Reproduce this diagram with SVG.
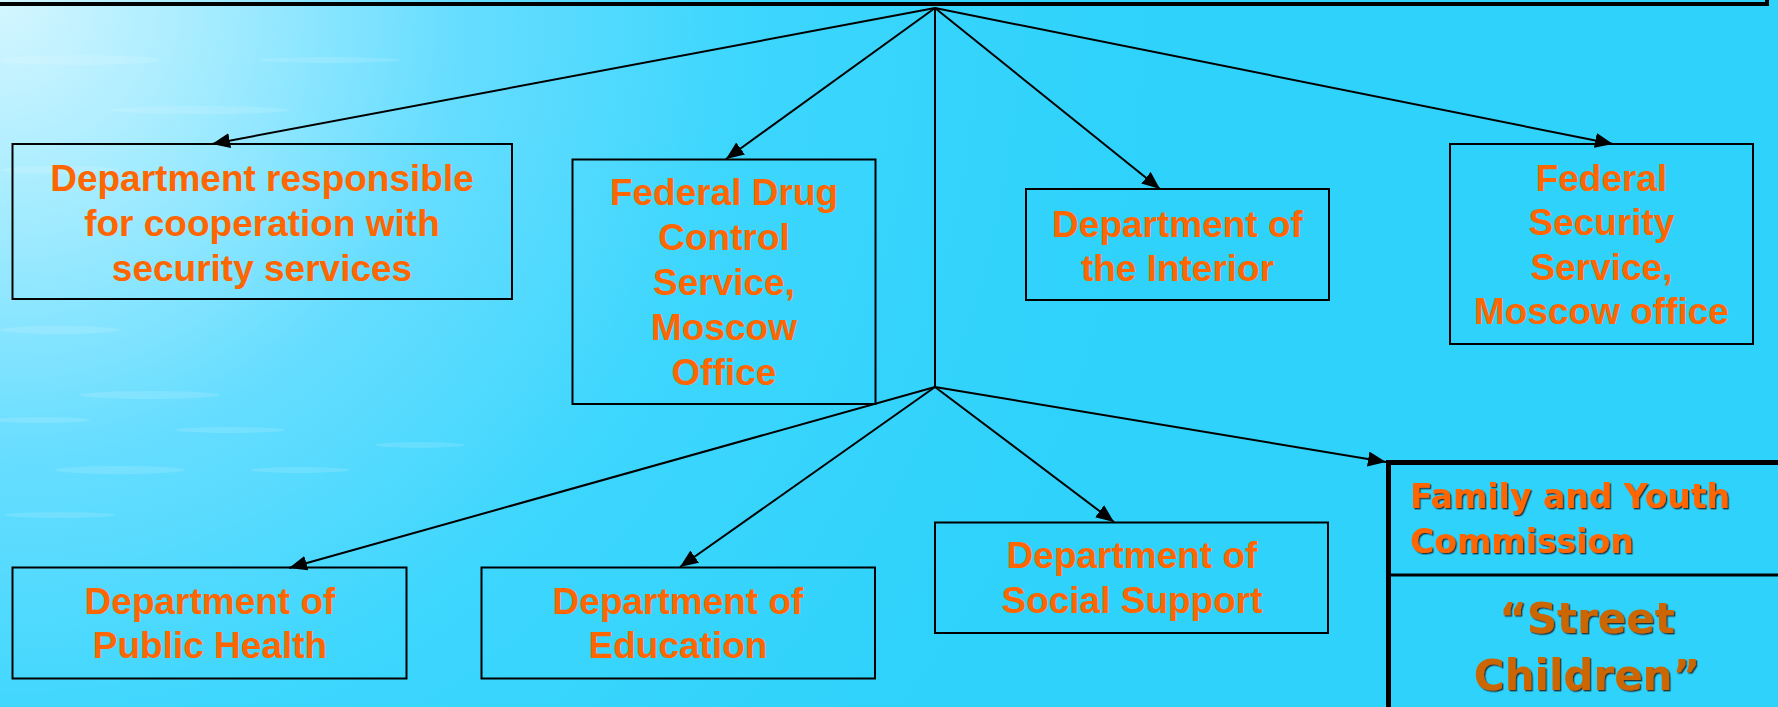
<svg xmlns="http://www.w3.org/2000/svg" width="1778" height="707" viewBox="0 0 1778 707">
<defs>
<radialGradient id="bg" cx="0" cy="0" r="1150" gradientUnits="userSpaceOnUse">
<stop offset="0" stop-color="#d4f6ff"/>
<stop offset="0.18" stop-color="#a6ecff"/>
<stop offset="0.4" stop-color="#66ddff"/>
<stop offset="0.65" stop-color="#3dd6fd"/>
<stop offset="1" stop-color="#2ed2fb"/>
</radialGradient>
<marker id="arr" markerUnits="userSpaceOnUse" markerWidth="19" markerHeight="16" refX="18" refY="7.5" orient="auto">
<path d="M0,0 L18,7.5 L0,15 z" fill="#000"/>
</marker>
<filter id="shadow" x="-5%" y="-20%" width="110%" height="140%">
<feDropShadow dx="1.4" dy="1.4" stdDeviation="0.3" flood-color="#202020" flood-opacity="0.85"/>
</filter>
<style>
.box{fill:none;stroke:#000;stroke-width:2}
.lbl{font-family:"Liberation Sans",Arial,sans-serif;font-weight:bold;font-size:37px;fill:#ff6600;text-anchor:middle}
.conn{stroke:#000;stroke-width:2;fill:none}
.arrow{marker-end:url(#arr)}
.fy{font-family:"DejaVu Sans",Verdana,sans-serif;font-weight:bold;font-size:33px;fill:#ff6600;filter:url(#shadow)}
.sc{font-family:"DejaVu Sans",Verdana,sans-serif;font-weight:bold;font-size:42px;fill:#cc6600;text-anchor:middle;filter:url(#shadow)}
.streak{fill:#ffffff;opacity:0.13}
</style>
</defs>
<rect x="0" y="0" width="1778" height="707" fill="url(#bg)"/>
<g id="texture">
<ellipse class="streak" cx="60" cy="330" rx="60" ry="4"/>
<ellipse class="streak" cx="150" cy="395" rx="70" ry="4"/>
<ellipse class="streak" cx="40" cy="420" rx="50" ry="3"/>
<ellipse class="streak" cx="230" cy="430" rx="55" ry="3"/>
<ellipse class="streak" cx="120" cy="470" rx="65" ry="4"/>
<ellipse class="streak" cx="300" cy="470" rx="50" ry="3"/>
<ellipse class="streak" cx="60" cy="515" rx="55" ry="3"/>
<ellipse class="streak" cx="420" cy="445" rx="45" ry="3"/>
<ellipse class="streak" cx="80" cy="60" rx="80" ry="5"/>
<ellipse class="streak" cx="200" cy="110" rx="90" ry="4"/>
<ellipse class="streak" cx="60" cy="170" rx="60" ry="4"/>
<ellipse class="streak" cx="330" cy="60" rx="70" ry="3"/>
</g>

<g id="top-box">
<rect x="-10" y="-20" width="1777" height="24" fill="none" stroke="#000" stroke-width="4"/>
</g>

<g id="connectors">
<line class="conn" x1="935" y1="8" x2="935" y2="387"/>
<line class="conn arrow" x1="935" y1="8" x2="212" y2="144"/>
<line class="conn arrow" x1="935" y1="8" x2="726" y2="159"/>
<line class="conn arrow" x1="935" y1="8" x2="1160" y2="189"/>
<line class="conn arrow" x1="935" y1="8" x2="1613" y2="144"/>
<line class="conn arrow" x1="935" y1="387" x2="289" y2="568"/>
<line class="conn arrow" x1="935" y1="387" x2="680" y2="567"/>
<line class="conn arrow" x1="935" y1="387" x2="1114" y2="522"/>
<line class="conn arrow" x1="935" y1="387" x2="1386" y2="462"/>
</g>

<g id="dept-security-cooperation">
<rect class="box" x="12.5" y="144" width="499.5" height="155"/>
<text class="lbl" x="262" y="191">Department responsible</text>
<text class="lbl" x="262" y="236">for cooperation with</text>
<text class="lbl" x="262" y="281">security services</text>
</g>

<g id="federal-drug-control">
<rect class="box" x="572.5" y="159.5" width="303" height="244.5"/>
<text class="lbl" x="724" y="205">Federal Drug</text>
<text class="lbl" x="724" y="250">Control</text>
<text class="lbl" x="724" y="295">Service,</text>
<text class="lbl" x="724" y="340">Moscow</text>
<text class="lbl" x="724" y="385">Office</text>
</g>

<g id="dept-interior">
<rect class="box" x="1026" y="189" width="303" height="111"/>
<text class="lbl" x="1177.5" y="237">Department of</text>
<text class="lbl" x="1177.5" y="281">the Interior</text>
</g>

<g id="federal-security-service">
<rect class="box" x="1450" y="144" width="303" height="200"/>
<text class="lbl" x="1601.5" y="191">Federal</text>
<text class="lbl" x="1601.5" y="235">Security</text>
<text class="lbl" x="1601.5" y="280">Service,</text>
<text class="lbl" x="1601.5" y="324">Moscow office</text>
</g>

<g id="dept-public-health">
<rect class="box" x="12.5" y="567.5" width="394" height="111"/>
<text class="lbl" x="210" y="614">Department of</text>
<text class="lbl" x="210" y="658">Public Health</text>
</g>

<g id="dept-education">
<rect class="box" x="481.5" y="567.5" width="393.5" height="111"/>
<text class="lbl" x="678" y="614">Department of</text>
<text class="lbl" x="678" y="658">Education</text>
</g>

<g id="dept-social-support">
<rect class="box" x="935" y="522.5" width="393" height="110.5"/>
<text class="lbl" x="1132" y="568">Department of</text>
<text class="lbl" x="1132" y="613">Social Support</text>
</g>

<g id="family-youth-commission">
<rect x="1388.5" y="462.5" width="500" height="300" fill="none" stroke="#000" stroke-width="5"/>
<line x1="1388" y1="575" x2="1778" y2="575" stroke="#000" stroke-width="3"/>
<text class="fy" x="1410" y="508">Family and Youth</text>
<text class="fy" x="1410" y="553">Commission</text>
<text class="sc" x="1587" y="633">“Street</text>
<text class="sc" x="1587" y="690">Children”</text>
</g>
</svg>
